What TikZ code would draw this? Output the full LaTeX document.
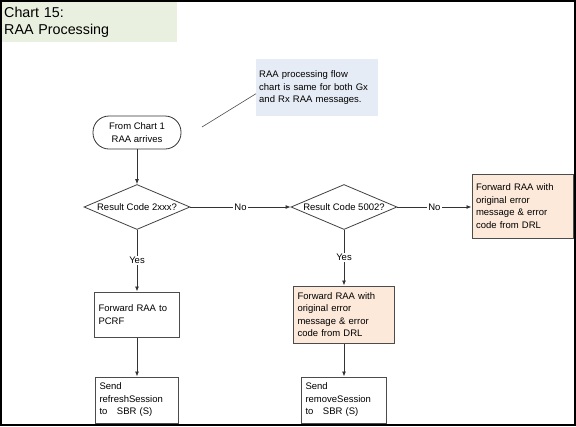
\documentclass[tikz,border=0pt]{standalone}
\usepackage{fontspec}
\setmainfont{Liberation Sans}
\usepackage{tikz}
\usetikzlibrary{shapes.geometric,arrows.meta}
\definecolor{titlegreen}{RGB}{233,240,223}
\definecolor{noteblue}{RGB}{230,236,245}
\definecolor{peach}{RGB}{252,233,218}

\begin{document}
\begin{tikzpicture}[x=1pt, y=-1pt, every node/.style={font=\fontsize{9.5}{12.5}\selectfont},
  procbox/.style={draw=black!70, line width=1pt, fill=white, align=left, inner sep=4pt},
  decision/.style={draw=black!75, line width=0.8pt, diamond, aspect=2.36, inner sep=0pt, minimum width=106pt, minimum height=45pt},
  lbl/.style={fill=white, inner sep=1pt},
  flow/.style={draw=black!80, line width=0.8pt, -{Latex[length=5pt,width=4pt]}}]
\useasboundingbox (0,0) rectangle (576,426);
\draw[line width=1.5pt] (1,1) rectangle (575,425);

\node[fill=titlegreen, anchor=north west, minimum width=175pt, minimum height=40pt, text width=171pt, inner sep=2pt, align=left, font=\fontsize{14.3}{17}\selectfont] (title) at (2,2) {Chart 15:\\RAA Processing};
\node[fill=noteblue, anchor=north west, minimum width=122pt, minimum height=57pt, text width=116pt, inner sep=3pt, align=left] (note) at (256,59) {RAA processing flow\\chart is same for both Gx\\and Rx RAA messages.};
\coordinate (tail) at (202,127);

\node[draw=black!80, line width=0.8pt, rounded corners=16pt, minimum width=88pt, minimum height=33pt, align=center] (start) at (137,132.5) {From Chart 1\\RAA arrives};
\node[decision] (rc2xxx) at (137,207) {Result Code 2xxx?};
\node[decision] (rc5002) at (344,207) {Result Code 5002?};
\node[procbox, fill=peach, minimum width=101pt, minimum height=64pt, text width=93pt] (fwderr) at (522.5,206) {Forward RAA with\\original error\\message \& error\\code from DRL};
\node[procbox, minimum width=85pt, minimum height=45pt, text width=77pt] (fwdpcrf) at (137,314.5) {Forward RAA to\\PCRF};
\node[procbox, fill=peach, minimum width=101pt, minimum height=57pt, text width=93pt] (fwddrl) at (344,314.5) {Forward RAA with\\original error\\message \& error\\code from DRL};
\node[procbox, minimum width=83pt, minimum height=46pt, text width=75pt] (refresh) at (137,400) {Send\\refreshSession\\to\ \ \ SBR (S)};
\node[procbox, minimum width=85pt, minimum height=46pt, text width=77pt] (remove) at (344,400) {Send\\removeSession\\to\ \ \ SBR (S)};

\draw[draw=black!70, line width=0.6pt] (tail) -- ([yshift=-6pt]note.west);
\draw[flow] (start) -- (rc2xxx);
\draw[flow] (rc2xxx) -- node[lbl, midway] {No} (rc5002);
\draw[flow] (rc5002.east) -- node[lbl, midway] {No} (rc5002.east -| fwderr.west);
\draw[flow] (rc2xxx) -- node[lbl, midway] {Yes} (fwdpcrf);
\draw[flow] (rc5002) -- node[lbl, midway] {Yes} (fwddrl);
\draw[flow] (fwdpcrf) -- (refresh);
\draw[flow] (fwddrl) -- (remove);
\end{tikzpicture}
\end{document}
